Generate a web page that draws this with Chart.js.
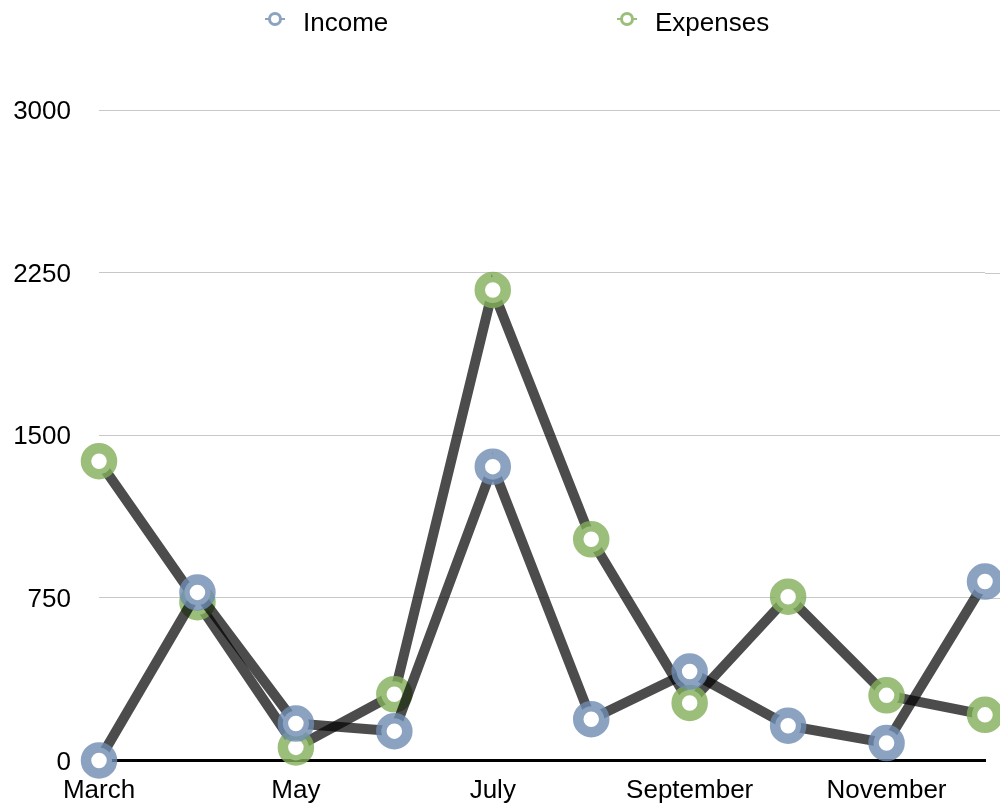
<!DOCTYPE html>
<html>
<head>
<meta charset="utf-8">
<script src="https://cdn.jsdelivr.net/npm/chart.js@4"></script>
<style>
    html, body { margin: 0; padding: 0; background: #fff; }
    #wrap { position: relative; width: 1000px; height: 804px; }
    .legend-item {
        position: absolute; top: 6px;
        font-family: "Liberation Sans", Arial, sans-serif;
        font-size: 26px; color: #000; line-height: 32px;
    }
    .legend-mark {
        position: absolute; left: -35px; top: 6px;
        width: 8px; height: 8px; border-radius: 50%;
        border: 3px solid; background: #fff;
    }
    .legend-stub {
        position: absolute; left: -38px; top: 12px;
        width: 20px; height: 2px;
    }
</style>
</head>
<body>
<div id="wrap">
    <canvas id="myChart" width="1000" height="804"></canvas>
    <div class="legend-item" style="left:303px">
        <span class="legend-stub" style="background:#8ba3c1"></span>
        <span class="legend-mark" style="border-color:#8ba3c1"></span>Income
    </div>
    <div class="legend-item" style="left:655px">
        <span class="legend-stub" style="background:#9bbf7b"></span>
        <span class="legend-mark" style="border-color:#9bbf7b"></span>Expenses
    </div>
</div>
<script>

// =======================================
// DATA
// =======================================

const months = [
    'March', 'April', 'May', 'June', 'July',
    'August', 'September', 'October', 'November', 'December'
];

const income = [0, 775, 170, 135, 1355, 190, 410, 160, 80, 825];

const expenses = [1380, 730, 60, 305, 2170, 1020, 265, 755, 300, 210];

const yTicks = [0, 750, 1500, 2250, 3000];

// =======================================
// CHART
// =======================================

const ctx = document.getElementById('myChart').getContext('2d');

const font = { family: '"Liberation Sans", Arial, sans-serif', size: 26 };

function lineSet(label, data, ring){
    return {
        label: label,
        data: data,
        borderColor: 'rgba(0,0,0,0.7)',
        borderWidth: 10,
        tension: 0,
        fill: false,
        pointRadius: 13,
        pointHoverRadius: 13,
        pointBorderWidth: 10.5,
        pointBackgroundColor: '#ffffff',
        pointBorderColor: ring,
        clip: false
    };
}

// gridlines run on to the right edge of the canvas
const gridTail = {
    id: 'gridTail',
    beforeDatasetsDraw(chart){
        const y = chart.scales.y;
        const c = chart.ctx;
        c.save();
        c.strokeStyle = '#c8c8c8';
        c.lineWidth = 1;
        yTicks.slice(1).forEach(v => {
            const py = Math.round(y.getPixelForValue(v)) + 0.5;
            c.beginPath();
            c.moveTo(chart.chartArea.right, py);
            c.lineTo(chart.width, py);
            c.stroke();
        });
        c.restore();
    }
};

const myChart = new Chart(ctx, {

    type: 'line',

    data: {
        labels: months,
        datasets: [
            lineSet('Income', income, 'rgba(110,140,178,0.8)'),
            lineSet('Expenses', expenses, 'rgba(130,175,90,0.8)')
        ]
    },

    options: {
        responsive: false,
        animation: false,
        events: [],
        layout: {
            autoPadding: false,
            padding: { top: 110, right: 12, left: 0, bottom: 0 }
        },
        plugins: {
            legend: { display: false },
            tooltip: { enabled: false }
        },
        scales: {
            x: {
                offset: false,
                grid: { display: false, drawTicks: false },
                border: { display: true, color: '#000', width: 3 },
                ticks: {
                    autoSkip: false,
                    maxRotation: 0,
                    color: '#000',
                    font: font,
                    padding: 15,
                    callback: function(value, index){
                        return index % 2 === 0 ? months[index] : '';
                    }
                },
                afterFit: function(scale){ scale.height = 43; }
            },
            y: {
                min: 0,
                max: 3000,
                afterBuildTicks: function(scale){
                    scale.ticks = yTicks.map(v => ({ value: v }));
                },
                grid: { color: '#c8c8c8', lineWidth: 1, drawTicks: false },
                border: { display: false },
                ticks: {
                    color: '#000',
                    font: font,
                    padding: 28,
                    labelOffset: 2,
                    callback: function(value){ return String(value); }
                },
                afterFit: function(scale){ scale.width = 99; }
            }
        }
    },

    plugins: [gridTail]
});

</script>
</body>
</html>
